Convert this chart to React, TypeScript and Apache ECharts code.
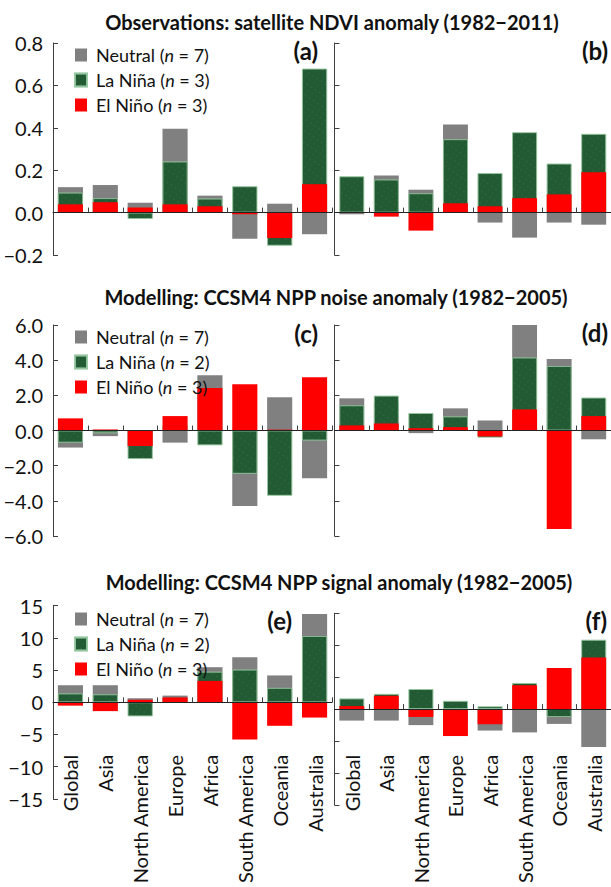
import React, { useEffect, useRef } from "react";
import * as echarts from "echarts";

const categories = ["Global", "Asia", "North America", "Europe", "Africa", "South America", "Oceania", "Australia"];

const aNeutral = [0.12, 0.13, 0.047, 0.396, 0.08, -0.123, 0.042, -0.102];
const aLaNina = [0.094, 0.068, -0.03, 0.241, 0.066, 0.124, -0.156, 0.679];
const aElNino = [0.039, 0.049, 0.024, 0.039, 0.03, -0.008, -0.12, 0.134];

const bNeutral = [-0.008, 0.175, 0.108, 0.415, -0.047, -0.118, -0.047, -0.057];
const bLaNina = [0.171, 0.156, 0.091, 0.346, 0.186, 0.379, 0.231, 0.371];
const bElNino = [0.0, -0.019, -0.085, 0.044, 0.03, 0.068, 0.086, 0.19];

const cNeutral = [-0.97, -0.32, -1.0, -0.69, 3.14, -4.29, 1.89, -2.72];
const cLaNina = [-0.69, -0.15, -1.62, 0.3, -0.84, -2.46, -3.71, -0.57];
const cElNino = [0.69, 0.06, -0.88, 0.82, 2.42, 2.63, 0.05, 3.03];

const dNeutral = [1.83, 1.6, -0.15, 1.26, 0.57, 6.0, 4.06, -0.5];
const dLaNina = [1.43, 1.98, 0.99, 0.8, -0.4, 4.15, 3.66, 1.87];
const dElNino = [0.29, 0.4, 0.13, 0.19, -0.34, 1.2, -5.6, 0.82];

const eNeutral = [2.65, 2.65, 0.62, 1.04, 5.45, 7.0, 4.17, 13.7];
const eLaNina = [1.37, 1.23, -2.18, 0.4, 4.74, 5.07, 2.23, 10.28];
const eElNino = [-0.52, -1.37, 0.38, 0.76, 3.32, -5.78, -3.65, -2.37];

const fNeutral = [-1.8, -1.8, -2.51, -2.0, -3.36, -3.65, -2.32, -5.92];
const fLaNina = [1.66, 2.37, 3.13, 1.28, 0.43, 4.08, -1.23, 10.85];
const fElNino = [0.47, 2.09, -1.23, -4.22, -2.37, 3.74, 6.45, 8.06];

const titles = [
  "Observations: satellite NDVI anomaly (1982\u22122011)",
  "Modelling: CCSM4 NPP noise anomaly (1982\u22122005)",
  "Modelling: CCSM4 NPP signal anomaly (1982\u22122005)",
];
const panelLetters = ["(a)", "(b)", "(c)", "(d)", "(e)", "(f)"];
const legendRow1 = ["Neutral (n = 7)", "La Ni\u00f1a (n = 3)", "El Ni\u00f1o (n = 3)"];
const legendRow23 = ["Neutral (n = 7)", "La Ni\u00f1a (n = 2)", "El Ni\u00f1o (n = 3)"];

const FONT = "Lato";
const GRAY = "#808080";
const GREEN = "#225a33";
const RED = "#ff0000";
const AXIS = "#404040";

function fmt1(v: number) {
  const s = Math.abs(v).toFixed(1);
  return v < -1e-9 ? "\u2212" + s : s;
}
function fmt0(v: number) {
  const s = Math.abs(v).toFixed(0);
  return v < -1e-9 ? "\u2212" + s : s;
}

export default function App() {
  const ref = useRef<HTMLDivElement>(null);
  useEffect(() => {
    if (!ref.current) return;
    const chart = echarts.init(ref.current, null, { renderer: "svg" });

    const grids = [
      { left: 53, top: 43, width: 279, height: 212 },
      { left: 334.5, top: 43, width: 277.5, height: 212 },
      { left: 53, top: 325, width: 279, height: 211 },
      { left: 334.5, top: 325, width: 277.5, height: 211 },
      { left: 53, top: 605.7, width: 279, height: 211 },
      { left: 334.5, top: 613.3, width: 277.5, height: 211 },
    ];
    const data = [
      [aNeutral, aLaNina, aElNino],
      [bNeutral, bLaNina, bElNino],
      [cNeutral, cLaNina, cElNino],
      [dNeutral, dLaNina, dElNino],
      [eNeutral, eLaNina, eElNino],
      [fNeutral, fLaNina, fElNino],
    ];
    const ranges = [
      { min: -0.2, max: 0.8, interval: 0.2, f: fmt1 },
      { min: -0.2, max: 0.8, interval: 0.2, f: fmt1 },
      { min: -6, max: 6, interval: 2, f: fmt1 },
      { min: -6, max: 6, interval: 2, f: fmt1 },
      { min: -15, max: 15, interval: 5, f: fmt0 },
      { min: -15, max: 15, interval: 5, f: fmt0 },
    ];

    const xAxis: any[] = [];
    const yAxis: any[] = [];
    const series: any[] = [];

    for (let i = 0; i < 6; i++) {
      xAxis.push({
        type: "category",
        gridIndex: i,
        data: categories,
        boundaryGap: true,
        axisLine: { onZero: true, lineStyle: { color: "#222", width: 1 } },
        axisTick: { show: true, inside: true, length: 5, interval: 0, lineStyle: { color: AXIS } },
        axisLabel: { show: false },
        splitLine: { show: false },
        z: 10,
      });
      const r = ranges[i];
      yAxis.push({
        type: "value",
        gridIndex: i,
        min: r.min,
        max: r.max,
        interval: r.interval,
        axisLine: { show: true, onZero: false, lineStyle: { color: AXIS, width: 1 } },
        axisTick: { show: true, inside: true, length: 5, lineStyle: { color: AXIS } },
        axisLabel: {
          show: i % 2 === 0,
          formatter: (v: number) => r.f(v),
          fontFamily: FONT,
          fontSize: 20,
          color: "#111",
          margin: 10,
        },
        splitLine: { show: false },
      });
      const [n, g, e] = data[i];
      const common = { type: "bar", xAxisIndex: i, yAxisIndex: i, barGap: "-100%", barWidth: "72%" };
      series.push({ ...common, name: "Neutral (n = 7)", data: n, itemStyle: { color: GRAY }, z: 2 });
      series.push({
        ...common,
        name: i < 2 ? legendRow1[1] : legendRow23[1],
        data: g,
        itemStyle: {
          color: GREEN,
          borderColor: "rgba(150,200,160,0.7)",
          borderWidth: 0.8,
          decal: {
            symbol: "rect",
            symbolSize: 0.5,
            color: "rgba(120,175,135,0.35)",
            dashArrayX: [[2, 3], [1, 4]],
            dashArrayY: [2, 3],
            rotation: 0.6,
          },
        },
        z: 3,
      });
      series.push({ ...common, name: "El Ni\u00f1o (n = 3)", data: e, itemStyle: { color: RED }, z: 4 });
    }

    const labelAxis = (grid: number, offset: number) => ({
      type: "category",
      gridIndex: grid,
      data: categories,
      position: "bottom",
      offset,
      axisLine: { show: false },
      axisTick: { show: false },
      axisLabel: { interval: 0, rotate: 90, fontFamily: FONT, fontSize: 20, color: "#111", margin: 8 },
    });
    xAxis.push(labelAxis(4, -52));
    xAxis.push(labelAxis(5, -58));

    const legendFormatter = (name: string) => {
      const parts = name.split("(n");
      return `{t|${parts[0]}(}{i|n}{t|${parts[1]}}`;
    };
    const legendBase = (top: number, names: string[]) => ({
      orient: "vertical",
      left: 69,
      top,
      itemWidth: 12,
      itemHeight: 13,
      itemGap: 7,
      icon: "rect",
      selectedMode: false,
      z: 20,
      data: names,
      formatter: legendFormatter,
      textStyle: {
        padding: [0, 0, 0, 4],
        rich: {
          t: { fontFamily: FONT, fontSize: 18, color: "#111", lineHeight: 20.7 },
          i: { fontFamily: FONT, fontSize: 18, fontStyle: "italic", color: "#111", lineHeight: 20.7 },
        },
      },
    });

    const graphic: any[] = [];
    const titlePos = [
      [332, 22],
      [336, 297],
      [339, 582],
    ];
    titles.forEach((t, k) => {
      graphic.push({
        type: "text",
        x: titlePos[k][0],
        y: titlePos[k][1],
        style: {
          text: t,
          fontFamily: FONT,
          fontWeight: "bold",
          fontSize: 20,
          fill: "#111",
          align: "center",
          verticalAlign: "middle",
        },
      });
    });
    const letterPos = [
      [318, 50],
      [608, 50],
      [318, 333],
      [608, 332],
      [292, 620],
      [607, 620],
    ];
    panelLetters.forEach((t, k) => {
      graphic.push({
        type: "text",
        x: letterPos[k][0],
        y: letterPos[k][1],
        style: {
          text: t,
          fontFamily: FONT,
          fontWeight: "bold",
          fontSize: 24,
          fill: "#111",
          align: "right",
          verticalAlign: "middle",
        },
      });
    });

    chart.setOption({
      animation: false,
      backgroundColor: "#fff",
      grid: grids,
      xAxis,
      yAxis,
      series,
      legend: [legendBase(41, legendRow1), legendBase(323, legendRow23), legendBase(605, legendRow23)],
      graphic,
    });
    return () => chart.dispose();
  }, []);

  return (
    <div
      ref={ref}
      style={{ position: "absolute", left: 0, top: 0, width: 611, height: 887 }}
    />
  );
}
